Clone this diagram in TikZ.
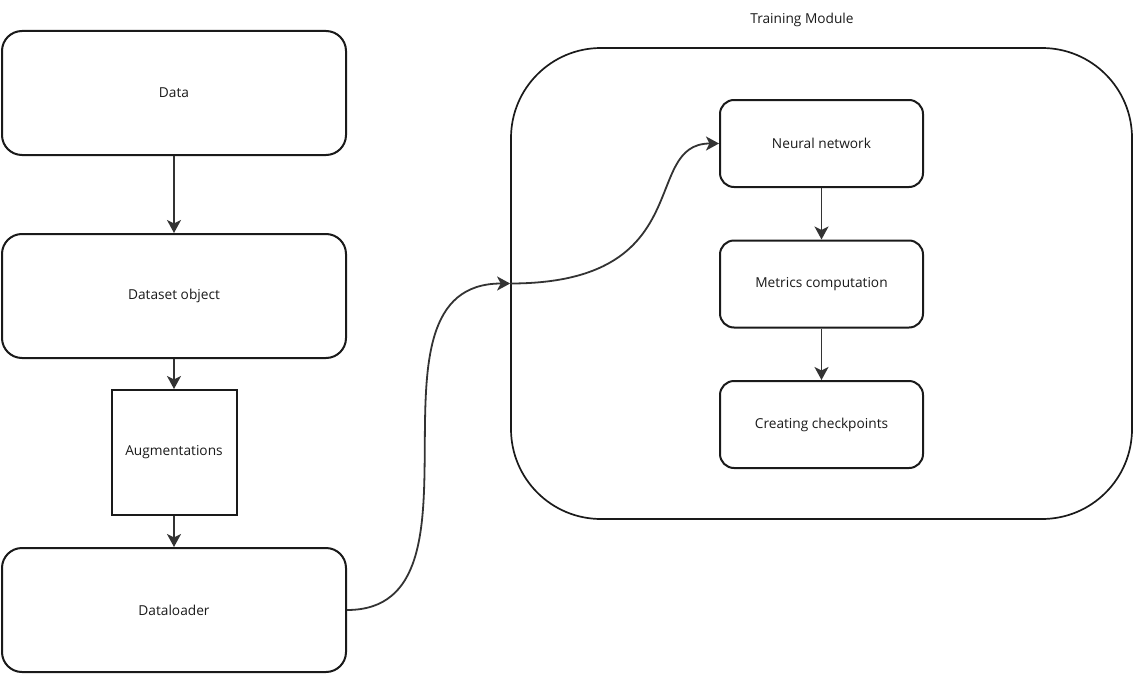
\documentclass[tikz,border=0pt]{standalone}
\usepackage{fontspec}
\setmainfont{Open Sans}
\usepackage{tikz}
\usetikzlibrary{arrows.meta,positioning}
\definecolor{edgegray}{HTML}{333333}
\definecolor{boxline}{HTML}{1A1A1A}
\tikzstyle{block}=[draw=boxline,line width=2pt,inner sep=0pt,rounded corners=20pt,minimum width=344pt,minimum height=124pt]
\tikzstyle{small}=[draw=boxline,line width=2pt,inner sep=0pt,rounded corners=14pt,minimum width=203pt,minimum height=87pt]
\tikzstyle{arrow}=[draw=edgegray,line width=1.8pt,-{Stealth[length=13pt,width=14pt,inset=3.5pt]}]

\begin{document}
\begin{tikzpicture}[x=1pt,y=-1pt,font=\fontsize{13.7}{16}\selectfont,text=boxline]
\useasboundingbox (0,0) rectangle (1137,677);
\node[block](data)at (174,93){Data};
\node[block](dataset)at (174,296){Dataset object};
\node[draw=boxline,line width=2pt,inner sep=0pt,minimum width=125pt,minimum height=125pt](aug)at (174,452.5){Augmentations};
\node[block](loader)at (174,610){Dataloader};
%training module
\node[draw=boxline,line width=1.7pt,inner sep=0pt,rounded corners=90pt,minimum width=621pt,minimum height=471pt](train)at (821.5,283.5){};
\node[](trainlabel)at (802,20){Training Module};
\node[small](nn)at (821.5,143.5){Neural network};
\node[small](metrics)at (821.5,284){Metrics computation};
\node[small](ckpt)at (821.5,424.5){Creating checkpoints};
\draw[arrow] (data)--(dataset);
\draw[arrow] (dataset)--(aug);
\draw[arrow] (aug)--(loader);
\draw[arrow] (loader.east) .. controls (500,610) and (350,283.5) .. (train.west);
\draw[arrow] (train.west) .. controls (700,283.5) and (640,143.5) .. (nn.west);
\draw[arrow] (nn)--(metrics);
\draw[arrow] (metrics)--(ckpt);
\end{tikzpicture}
\end{document}
